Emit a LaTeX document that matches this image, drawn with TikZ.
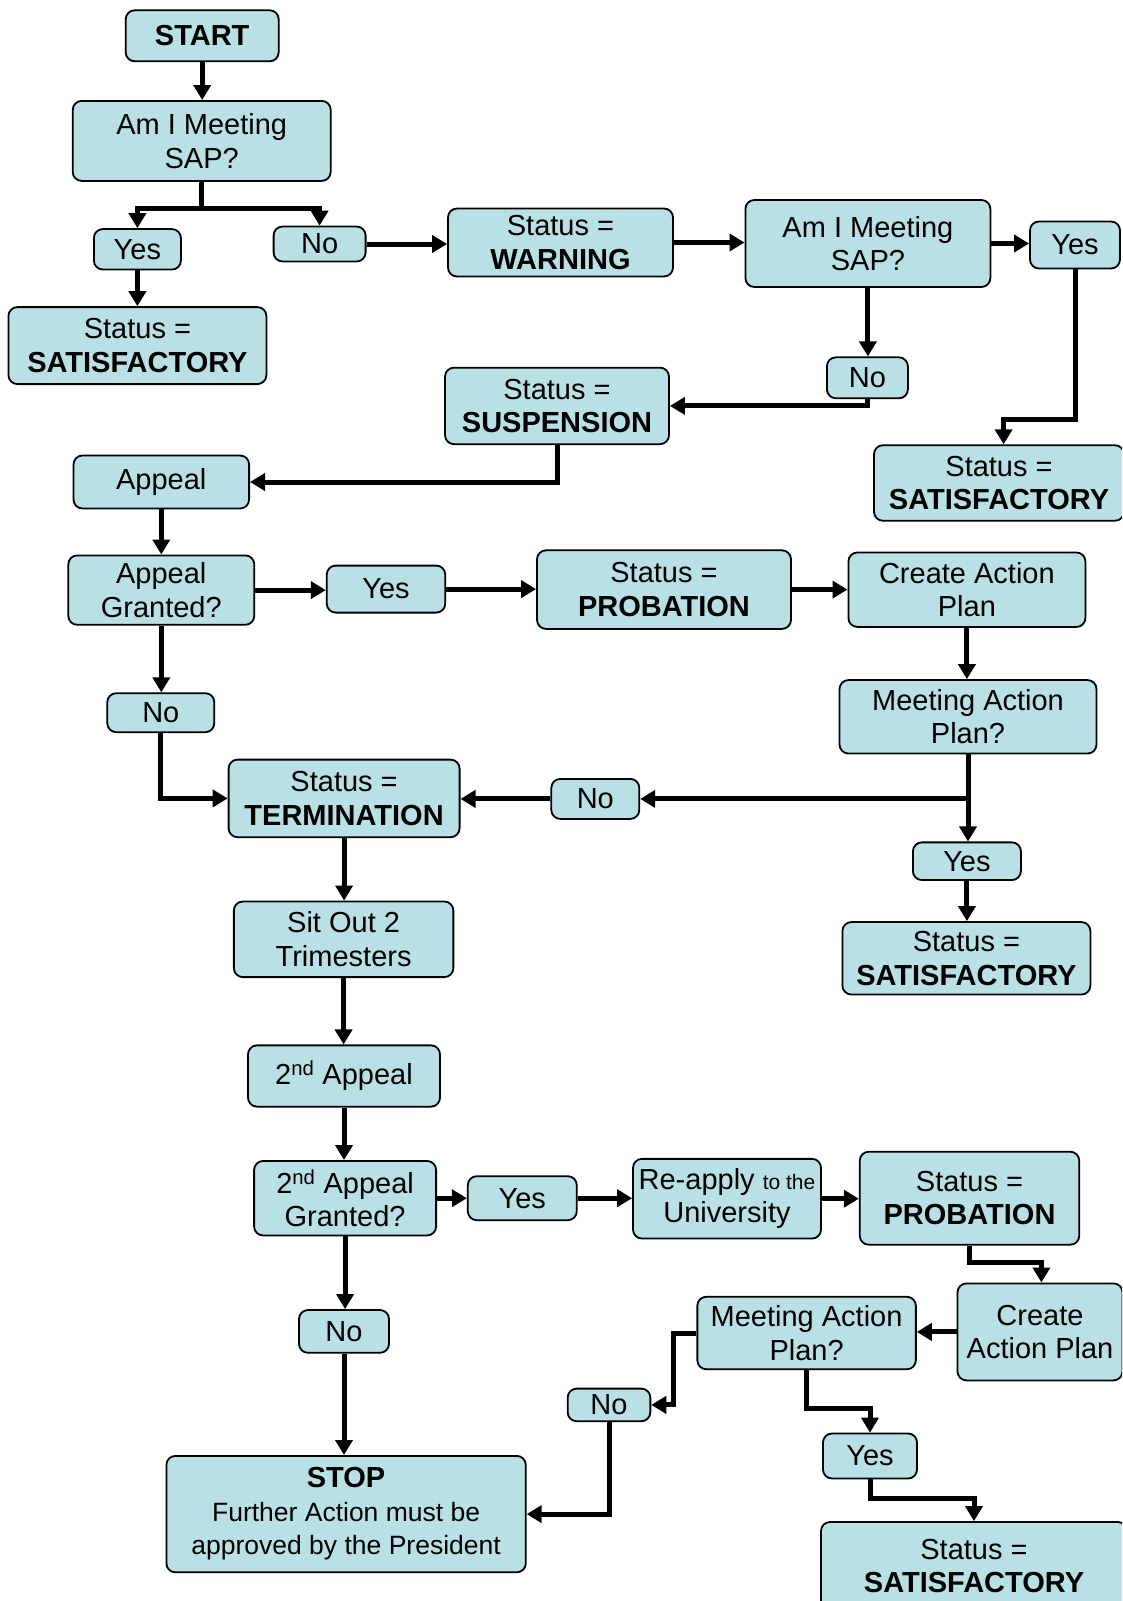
\documentclass[tikz,border=0pt]{standalone}
\usepackage{fontspec}
\setmainfont{Liberation Sans}
\usetikzlibrary{arrows.meta}
\definecolor{boxfill}{RGB}{185,224,228}
\tikzset{
  box/.style={draw=black, line width=1.8pt, rounded corners=9pt, fill=boxfill,
    align=center, inner sep=0pt, font=\fontsize{29}{33.5}\selectfont},
  conn/.style={line width=5pt, line join=miter},
  arr/.style={conn, -{Triangle[length=15pt,width=17pt]}}
}
\begin{document}
\begin{tikzpicture}[x=1pt,y=-1pt]
\useasboundingbox (0,0) rectangle (1122,1601);
\clip (0,0) rectangle (1122,1601);
% nodes
\node[box, minimum width=153pt, minimum height=51pt] (start) at (202.2,35.8) {\textbf{START}};
\node[box, minimum width=258pt, minimum height=80pt] (sap1) at (201.7,140.9) {Am I Meeting\\SAP?};
\node[box, minimum width=87pt, minimum height=40.5pt] (yes1) at (137.4,249.3) {Yes};
\node[box, minimum width=92pt, minimum height=35pt] (no1) at (319.6,244) {No};
\node[box, minimum width=258pt, minimum height=77pt] (sat1) at (137.4,345.6) {Status =\\\textbf{SATISFACTORY}};
\node[box, minimum width=225pt, minimum height=68pt] (warn) at (560.5,242.5) {Status =\\\textbf{WARNING}};
\node[box, minimum width=245pt, minimum height=87pt] (sap2) at (867.9,243.5) {Am I Meeting\\SAP?};
\node[box, minimum width=90pt, minimum height=47pt] (yes2) at (1075,245) {Yes};
\node[box, minimum width=81pt, minimum height=41pt] (no2) at (867.4,377.8) {No};
\node[box, minimum width=224pt, minimum height=76.5pt] (susp) at (557,405.9) {Status =\\\textbf{SUSPENSION}};
\node[box, minimum width=250pt, minimum height=75.5pt] (sat2) at (999,483) {Status =\\\textbf{SATISFACTORY}};
\node[box, minimum width=175.6pt, minimum height=53pt] (appeal) at (161.3,482) {Appeal};
\node[box, minimum width=186pt, minimum height=69.4pt] (appg) at (161.3,590.1) {Appeal\\Granted?};
\node[box, minimum width=118.5pt, minimum height=47pt] (yes3) at (386,589.1) {Yes};
\node[box, minimum width=254pt, minimum height=78.6pt] (prob1) at (664,589.6) {Status =\\\textbf{PROBATION}};
\node[box, minimum width=237pt, minimum height=74.5pt] (cap1) at (966.9,589.7) {Create Action\\Plan};
\node[box, minimum width=257pt, minimum height=73.5pt] (map1) at (968,716.8) {Meeting Action\\Plan?};
\node[box, minimum width=107pt, minimum height=39pt] (no3) at (160.8,712.7) {No};
\node[box, minimum width=231pt, minimum height=77.6pt] (term) at (344.1,798.4) {Status =\\\textbf{TERMINATION}};
\node[box, minimum width=88pt, minimum height=40pt] (no4) at (595.3,798.9) {No};
\node[box, minimum width=108pt, minimum height=37.7pt] (yes4) at (966.9,861.2) {Yes};
\node[box, minimum width=248pt, minimum height=72.5pt] (sat3) at (966.4,958.3) {Status =\\\textbf{SATISFACTORY}};
\node[box, minimum width=219.5pt, minimum height=75.6pt] (sitout) at (343.6,939.3) {Sit Out 2\\Trimesters};
\node[box, minimum width=192pt, minimum height=61.3pt] (app2) at (344,1076) {2\textsuperscript{nd} Appeal};
\node[box, minimum width=182pt, minimum height=74.5pt] (app2g) at (345.1,1198.2) {2\textsuperscript{nd} Appeal\\Granted?};
\node[box, minimum width=109pt, minimum height=44pt] (yes5) at (522.3,1198.2) {Yes};
\node[box, minimum width=188pt, minimum height=79.7pt] (reapp) at (727,1198.7) {Re-apply {\fontsize{21}{24}\selectfont to the}\\University};
\node[box, minimum width=219.5pt, minimum height=93pt] (prob2) at (969.5,1198.2) {Status =\\\textbf{PROBATION}};
\node[box, minimum width=165pt, minimum height=97pt] (cap2) at (1040,1331.9) {Create\\Action Plan};
\node[box, minimum width=218.5pt, minimum height=72.5pt] (map2) at (806.6,1333) {Meeting Action\\Plan?};
\node[box, minimum width=82.7pt, minimum height=32.6pt] (no6) at (609,1404.9) {No};
\node[box, minimum width=94pt, minimum height=45pt] (yes6) at (870,1456) {Yes};
\node[box, minimum width=306pt, minimum height=88pt] (sat4) at (974,1566) {Status =\\\textbf{SATISFACTORY}};
\node[box, minimum width=359.4pt, minimum height=116.4pt] (stop) at (346.1,1514.1) {\textbf{STOP}\\{\fontsize{26.5}{31}\selectfont Further Action must be}\\{\fontsize{26.5}{31}\selectfont approved by the President}};
\node[box, minimum width=90pt, minimum height=42.8pt] (no5) at (344,1331.4) {No};
% bend points
\coordinate (j1) at (201.7,208.3);
\coordinate (b1) at (1003.6,419.6);
\coordinate (b2) at (1041.4,1262.9);
\coordinate (b3) at (673.8,1404.9);
\coordinate (b4) at (870,1408.9);
\coordinate (b5) at (974,1498.8);
\coordinate (j2) at (map1.south |- no4.east);
% connectors
\draw[arr] (start.south) -- (start.south |- sap1.north);
\draw[conn] (sap1.south) -- (j1);
\draw[arr] (j1) -| (yes1.north);
\draw[arr] (j1) -| (no1.north);
\draw[arr] (yes1.south) -- (yes1.south |- sat1.north);
\draw[arr] (no1.east) -- (no1.east -| warn.west);
\draw[arr] (warn.east) -- (warn.east -| sap2.west);
\draw[arr] (sap2.east) -- (sap2.east -| yes2.west);
\draw[arr] (sap2.south) -- (sap2.south |- no2.north);
\draw[arr] (no2.south) |- (susp.east);
\draw[arr] (yes2.south) |- (b1) -- (b1 |- sat2.north);
\draw[arr] (susp.south) |- (appeal.east);
\draw[arr] (appeal.south) -- (appeal.south |- appg.north);
\draw[arr] (appg.east) -- (appg.east -| yes3.west);
\draw[arr] (yes3.east) -- (yes3.east -| prob1.west);
\draw[arr] (prob1.east) -- (prob1.east -| cap1.west);
\draw[arr] (cap1.south) -- (cap1.south |- map1.north);
\draw[arr] (appg.south) -- (appg.south |- no3.north);
\draw[arr] (no3.south) |- (term.west);
\draw[conn] (map1.south) -- (j2);
\draw[arr] (j2) -- (no4.east);
\draw[arr] (j2) -- (j2 |- yes4.north);
\draw[arr] (no4.west) -- (no4.west -| term.east);
\draw[arr] (yes4.south) -- (yes4.south |- sat3.north);
\draw[arr] (term.south) -- (term.south |- sitout.north);
\draw[arr] (sitout.south) -- (sitout.south |- app2.north);
\draw[arr] (app2.south) -- (app2.south |- app2g.north);
\draw[arr] (app2g.east) -- (app2g.east -| yes5.west);
\draw[arr] (yes5.east) -- (yes5.east -| reapp.west);
\draw[arr] (reapp.east) -- (reapp.east -| prob2.west);
\draw[arr] (prob2.south) |- (b2) -- (b2 |- cap2.north);
\draw[arr] (cap2.west) -- (cap2.west -| map2.east);
\draw[arr] (map2.west) -| (b3) -- (no6.east);
\draw[arr] (map2.south) |- (b4) -- (yes6.north);
\draw[arr] (yes6.south) |- (b5) -- (sat4.north);
\draw[arr] (no6.south) |- (stop.east);
\draw[arr] (app2g.south) -- (app2g.south |- no5.north);
\draw[arr] (no5.south) -- (no5.south |- stop.north);
\end{tikzpicture}
\end{document}
